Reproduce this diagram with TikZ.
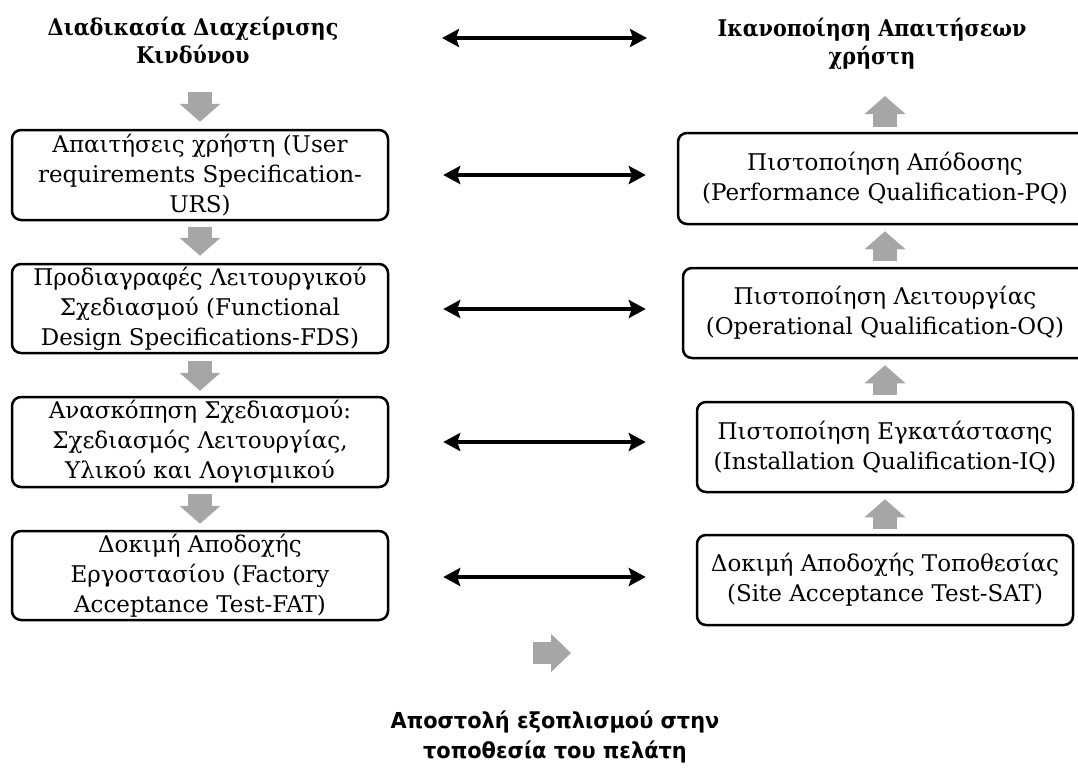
\documentclass[tikz,border=0pt]{standalone}
\usepackage{fontspec}
\setmainfont{DejaVu Serif}
\newfontfamily\titlefont{DejaVu Serif}[FakeStretch=0.9]
\newfontfamily\bottomfont{DejaVu Sans}[FakeStretch=0.95]
\usetikzlibrary{arrows.meta}
\definecolor{arrowgray}{HTML}{A6A6A6}
\tikzset{
  box/.style={draw=black, line width=2.5pt, rounded corners=9pt, align=center,
    inner sep=0pt, font=\fontsize{23}{30}\selectfont},
  ttl/.style={align=center, inner sep=0pt, font=\titlefont\bfseries\fontsize{23}{28}\selectfont},
  btitle/.style={align=center, inner sep=0pt, font=\bottomfont\bfseries\fontsize{22}{30}\selectfont},
  garrow/.style={draw=arrowgray, line width=24pt, line cap=butt,
    -{Triangle[length=18pt,width=40pt]}, arrowgray},
  dbl/.style={draw=black, line width=4.5pt,
    {Stealth[length=17pt,width=18pt,inset=3pt]}-{Stealth[length=17pt,width=18pt,inset=3pt]}}
}
\begin{document}
\begin{tikzpicture}[x=1pt,y=-1pt]
\useasboundingbox (0,0) rectangle (1078,774);
% titles
\node[ttl] (T1) at (193,41) {Διαδικασία Διαχείρισης\\Κινδύνου};
\node[ttl] (T2) at (872,44) {Ικανοποίηση Απαιτήσεων\\χρήστη};
\node[btitle] (T3) at (555,737) {Αποστολή εξοπλισμού στην\\τοποθεσία του πελάτη};
% left boxes
\node[box, minimum width=376pt, minimum height=90pt] (L1) at (200,175) {Απαιτήσεις χρήστη (User\\requirements Specification-\\URS)};
\node[box, minimum width=376pt, minimum height=89pt] (L2) at (200,308.5) {Προδιαγραφές Λειτουργικού\\Σχεδιασμού (Functional\\Design Specifications-FDS)};
\node[box, minimum width=376pt, minimum height=90pt] (L3) at (200,442) {Ανασκόπηση Σχεδιασμού:\\Σχεδιασμός Λειτουργίας,\\Υλικού και Λογισμικού};
\node[box, minimum width=376pt, minimum height=89pt] (L4) at (200,575.5) {Δοκιμή Αποδοχής\\Εργοστασίου (Factory\\Acceptance Test-FAT)};
% right boxes
\node[box, minimum width=414pt, minimum height=91pt] (R1) at (885,178.5) {Πιστοποίηση Απόδοσης\\(Performance Qualification-PQ)};
\node[box, minimum width=404pt, minimum height=90pt] (R2) at (885,313) {Πιστοποίηση Λειτουργίας\\(Operational Qualification-OQ)};
\node[box, minimum width=376pt, minimum height=90pt] (R3) at (885,447) {Πιστοποίηση Εγκατάστασης\\(Installation Qualification-IQ)};
\node[box, minimum width=376pt, minimum height=90pt] (R4) at (885,580) {Δοκιμή Αποδοχής Τοποθεσίας\\(Site Acceptance Test-SAT)};
% free ends
\coordinate (a0) at (200,92);
\coordinate (b0) at (885,96);
\coordinate (s1) at (533,653);
\coordinate (s2) at (571,653);
\coordinate (d1) at (442,38);
\coordinate (d2) at (647,38);
% gray arrows left (down)
\draw[garrow, shorten >=7pt] (a0) -- (L1.north);
\draw[garrow, shorten <=6pt, shorten >=7pt] (L1.south) -- (L2.north);
\draw[garrow, shorten <=7pt, shorten >=5pt] (L2.south) -- (L3.north);
\draw[garrow, shorten <=6pt, shorten >=6pt] (L3.south) -- (L4.north);
% gray arrows right (up)
\draw[garrow, shorten <=5pt] (R1.north) -- (b0);
\draw[garrow, shorten <=6pt, shorten >=6pt] (R2.north) -- (R1.south);
\draw[garrow, shorten <=6pt, shorten >=6pt] (R3.north) -- (R2.south);
\draw[garrow, shorten <=5pt, shorten >=6pt] (R4.north) -- (R3.south);
% bottom gray arrow
\draw[garrow, line width=22pt, -{Triangle[length=20pt,width=37pt]}] (s1) -- (s2);
% double arrows
\draw[dbl] (d1) -- (d2);
\draw[dbl, shorten <=54pt, shorten >=31pt] (L1.east) -- (L1.east -| R1.west);
\draw[dbl, shorten <=54pt, shorten >=36pt] ([yshift=-0.5pt]L2.east) -- ([yshift=-0.5pt]L2.east -| R2.west);
\draw[dbl, shorten <=54pt, shorten >=50pt] (L3.east) -- (L3.east -| R3.west);
\draw[dbl, shorten <=54pt, shorten >=50pt] ([yshift=-1.5pt]L4.east) -- ([yshift=-1.5pt]L4.east -| R4.west);
\end{tikzpicture}
\end{document}
